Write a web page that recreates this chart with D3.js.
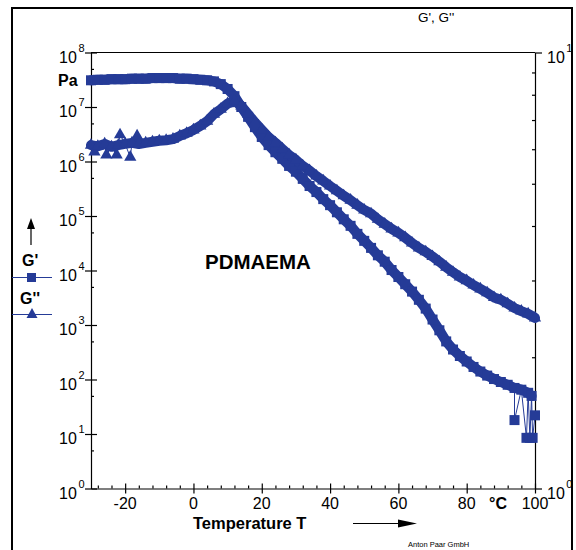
<!DOCTYPE html>
<html>
<head>
<meta charset="utf-8">
<script src="https://cdn.jsdelivr.net/npm/d3@7"></script>
<style>
  body { margin: 0; background: #fff; }
  svg { display: block; font-family: Arial, "Liberation Sans", sans-serif; }
</style>
</head>
<body>
<svg id="chart" width="576" height="550"></svg>
<script>
// temperature grid (°C) and moduli (Pa)
const tempG1 = [-30,-28,-26,-24,-22,-20,-18,-16,-14,-12,-10,-8,-6,-4,-2,0,2,4,6,8,10,12,14,16,18,20,
  22,24,26,28,30,32,34,36,38,40,42,44,46,48,50,52,54,56,58,60,62,64,66,68,70,72,74,76,78,80,
  82,84,86,88,90,92,94,96,98,99];
const gStorage = [3.09e7,3.16e7,3.16e7,3.24e7,3.24e7,3.24e7,3.31e7,3.31e7,3.31e7,3.39e7,3.39e7,3.39e7,3.39e7,3.31e7,3.31e7,3.24e7,3.16e7,3.09e7,2.95e7,2.63e7,2.14e7,1.58e7,1.0e7,6.6e6,4.27e6,2.82e6,
  2.0e6,1.48e6,1.12e6,8.3e5,6.5e5,4.8e5,3.55e5,2.75e5,2.04e5,1.58e5,1.17e5,8.7e4,6.6e4,4.7e4,3.5e4,2.6e4,1.9e4,1.45e4,1.02e4,7.6e3,5.6e3,4.1e3,2.9e3,2.0e3,1.26e3,800,500,355,270,214,
  170,140,118,102,90,80,70,65,57,50];
// stray G' points at the hot end
const tempG1Out = [94, 97.5, 98.5, 99.3, 100];
const gStorageOut = [18, 8.5, 8.5, 8.5, 22];

const tempG2 = [-30,-28,-26,-24,-22,-20,-18,-16,-14,-12,-10,-8,-6,-4,-2,0,2,4,6,8,10,12,14,16,18,20,
  22,24,26,28,30,32,34,36,38,40,42,44,46,48,50,52,54,56,58,60,62,64,66,68,70,72,74,76,78,80,
  82,84,86,88,90,92,94,96,98,100];
const gLoss = [2.0e6,1.9e6,2.1e6,1.86e6,2.0e6,2.1e6,2.2e6,2.1e6,2.2e6,2.3e6,2.4e6,2.45e6,2.57e6,2.95e6,3.3e6,3.8e6,4.5e6,5.5e6,7.4e6,9.1e6,1.15e7,1.29e7,1.05e7,7.4e6,5.2e6,3.8e6,
  2.8e6,2.2e6,1.7e6,1.32e6,1.07e6,8.3e5,6.8e5,5.4e5,4.4e5,3.55e5,2.9e5,2.35e5,1.95e5,1.58e5,1.29e5,1.1e5,8.7e4,7.1e4,5.8e4,4.9e4,4.0e4,3.2e4,2.6e4,2.2e4,1.8e4,1.45e4,1.15e4,9.3e3,7.6e3,6.5e3,
  5.4e3,4.6e3,3.9e3,3.2e3,2.9e3,2.45e3,2.05e3,1.8e3,1.6e3,1.35e3];
// scattered G'' triangles in the glassy region
const tempG2Out = [-29, -25.5, -22.5, -21.5, -18.5, -16.5];
const gLossOut = [1.5e6, 1.32e6, 1.32e6, 3.1e6, 1.2e6, 2.95e6];

const xTicks = [-20, 0, 20, 40, 60, 80, 100];
const xMinor = [-28,-24,-16,-12,-8,-4,4,8,12,16,24,28,32,36,44,48,52,56,64,68,72,76,84,88,92,96];
const yExp = [0,1,2,3,4,5,6,7,8];
const yMinor = [5,50,500,5e3,5e4,5e5,5e6,5e7];
const y2Minor = [2,3,4,5,6,7,8,9];

const blue = "#253b97";
const svg = d3.select("#chart");

const x = d3.scaleLinear().domain([-30, 100]).range([91, 535]);
const y = d3.scaleLog().domain([1, 1e8]).range([488.5, 52.5]);
const y2 = d3.scaleLog().domain([1, 10]).range([488.5, 52.5]);

// outer frame
svg.append("rect").attr("x", 12).attr("y", 8).attr("width", 560).attr("height", 560)
  .attr("fill", "none").attr("stroke", "#000").attr("stroke-width", 2);

// top frame line
svg.append("line").attr("x1", 91).attr("x2", 535).attr("y1", 52.5).attr("y2", 52.5)
  .attr("stroke", "#000").attr("stroke-width", 1.2);

// left axis
const gl = svg.append("g").attr("transform", "translate(91,0)")
  .call(d3.axisLeft(y).tickValues(yExp.map(e => Math.pow(10, e))).tickFormat("").tickSizeOuter(0));
gl.selectAll(".tick line").attr("x1", -6).attr("x2", 6);
svg.append("g").attr("transform", "translate(91,0)")
  .call(d3.axisLeft(y).tickValues(yMinor).tickFormat("").tickSize(-3).tickSizeOuter(0))
  .select(".domain").remove();

// right axis
svg.append("g").attr("transform", "translate(535,0)")
  .call(d3.axisRight(y2).tickValues([1, 10]).tickFormat("").tickSize(7).tickSizeOuter(0));
svg.append("g").attr("transform", "translate(535,0)")
  .call(d3.axisRight(y2).tickValues(y2Minor).tickFormat("").tickSize(-3).tickSizeOuter(0))
  .select(".domain").remove();

// bottom axis
const gb = svg.append("g").attr("transform", "translate(0,488.5)")
  .call(d3.axisBottom(x).tickValues(xTicks).tickFormat("").tickSizeOuter(0));
gb.selectAll(".tick line").attr("y1", -5).attr("y2", 5);
svg.append("g").attr("transform", "translate(0,488.5)")
  .call(d3.axisBottom(x).tickValues(xMinor).tickFormat("").tickSize(-3).tickSizeOuter(0))
  .select(".domain").remove();

svg.selectAll(".domain, .tick line").attr("stroke", "#000").attr("stroke-width", 1.2);

// power-of-ten labels
function powLabel(px, py, exp, anchorRight) {
  const t = svg.append("text").attr("y", py + 10).attr("font-size", 16).attr("fill", "#000");
  t.append("tspan").text("10");
  t.append("tspan").attr("dy", -11).attr("dx", 1.5).attr("font-size", 11).text(exp);
  if (anchorRight) {
    const w = t.node().getComputedTextLength();
    t.attr("x", px - w);
  } else {
    t.attr("x", px);
  }
}
yExp.forEach(e => powLabel(83, y(Math.pow(10, e)), e, true));
powLabel(547, y2(10), 1, false);
powLabel(547, y2(1), 0, false);

svg.selectAll(".xlab").data(xTicks).enter().append("text")
  .attr("x", d => x(d)).attr("y", 509).attr("text-anchor", "middle")
  .attr("font-size", 16).text(d => d);

// axis titles
svg.append("text").attr("x", 58).attr("y", 86).attr("font-size", 16).attr("font-weight", "bold").text("Pa");
svg.append("text").attr("x", 489).attr("y", 509).attr("font-size", 16).attr("font-weight", "bold").text("°C");
svg.append("text").attr("x", 193).attr("y", 529).attr("font-size", 16.5).attr("font-weight", "bold").text("Temperature T");
svg.append("line").attr("x1", 353).attr("x2", 400).attr("y1", 523.5).attr("y2", 523.5).attr("stroke", "#000").attr("stroke-width", 1);
svg.append("path").attr("d", "M398,519.5 L417,523.5 L398,527.5 Z").attr("fill", "#000");
svg.append("text").attr("x", 418).attr("y", 22).attr("font-size", 13.5).text("G', G''");
svg.append("text").attr("x", 408).attr("y", 547).attr("font-size", 7.5).text("Anton Paar GmbH");
svg.append("text").attr("x", 205).attr("y", 269).attr("font-size", 20.5).attr("font-weight", "bold").text("PDMAEMA");

// legend
svg.append("line").attr("x1", 31).attr("x2", 31).attr("y1", 245).attr("y2", 226).attr("stroke", "#000").attr("stroke-width", 1.2);
svg.append("path").attr("d", "M27,229 L31,218 L35,229 Z").attr("fill", "#000");
svg.append("text").attr("x", 22).attr("y", 266).attr("font-size", 16).attr("font-weight", "bold").text("G'");
svg.append("line").attr("x1", 12).attr("x2", 52).attr("y1", 277.5).attr("y2", 277.5).attr("stroke", blue).attr("stroke-width", 1.2);
svg.append("rect").attr("x", 27).attr("y", 273).attr("width", 9).attr("height", 9).attr("fill", blue);
svg.append("text").attr("x", 20).attr("y", 304).attr("font-size", 16).attr("font-weight", "bold").text("G''");
svg.append("line").attr("x1", 12).attr("x2", 52).attr("y1", 314.5).attr("y2", 314.5).attr("stroke", blue).attr("stroke-width", 1.2);
svg.append("path").attr("d", "M26.5,318 L32,308 L37.5,318 Z").attr("fill", blue);

// data
const g1 = tempG1.map((t, i) => [t, gStorage[i]]);
const g1o = tempG1Out.map((t, i) => [t, gStorageOut[i]]);
const g2 = tempG2.map((t, i) => [t, gLoss[i]]);
const g2o = tempG2Out.map((t, i) => [t, gLossOut[i]]);
const line = d3.line().x(d => x(d[0])).y(d => y(d[1]));

const plot = svg.append("g");
[g1, g2].forEach(s => {
  plot.append("path").attr("d", line(s)).attr("fill", "none").attr("stroke", blue)
    .attr("stroke-width", 10).attr("stroke-linejoin", "round").attr("stroke-linecap", "round");
});
const allG1 = g1.concat(g1o).sort((a, b) => a[0] - b[0]);
const allG2 = g2.concat(g2o).sort((a, b) => a[0] - b[0]);
[allG1, allG2].forEach(s => {
  plot.append("path").attr("d", line(s)).attr("fill", "none").attr("stroke", blue).attr("stroke-width", 1);
});

plot.selectAll(".sq").data(allG1).enter().append("rect")
  .attr("x", d => x(d[0]) - 5).attr("y", d => y(d[1]) - 5)
  .attr("width", 10).attr("height", 10).attr("fill", blue);
const tri = d3.symbol().type(d3.symbolTriangle).size(65);
plot.selectAll(".tr").data(allG2).enter().append("path")
  .attr("d", tri).attr("transform", d => `translate(${x(d[0])},${y(d[1])})`).attr("fill", blue);
</script>
</body>
</html>
